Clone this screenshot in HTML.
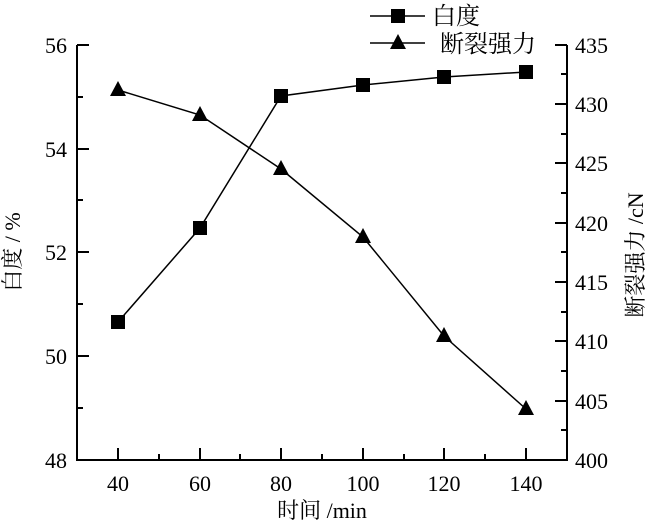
<!DOCTYPE html>
<html><head><meta charset="utf-8"><style>body{margin:0;background:#fff}</style></head><body>
<svg width="660" height="527" xmlns="http://www.w3.org/2000/svg" font-family="Liberation Serif, 'Noto Serif CJK SC', serif" font-size="22">
<g stroke="#000" stroke-width="2" fill="none">
<path d="M77 45V460H567V45"/>
<path d="M118 460v-12M159 460v-6M200 460v-12M240 460v-6M281 460v-12M322 460v-6M363 460v-12M404 460v-6M444 460v-12M485 460v-6M526 460v-12"/>
<path d="M77 460h12M77 408h6M77 356h12M77 304h6M77 252h12M77 200h6M77 149h12M77 97h6M77 45h12"/>
<path d="M567 460h-12M567 430h-6M567 401h-12M567 371h-6M567 341h-12M567 312h-6M567 282h-12M567 252h-6M567 223h-12M567 193h-6M567 163h-12M567 134h-6M567 104h-12M567 74h-6M567 45h-12"/>
</g>
<g stroke="#000" stroke-width="1.5" fill="none">
<polyline points="118,322 200,228 281,96 363,85 444,77 526,72"/>
<polyline points="118,90 200,115 281,169 363,237 444,336 526,409"/>
<path d="M370 16h55M370 43h55"/>
</g>
<g fill="#000">
<rect x="111" y="315" width="14" height="14"/><rect x="193" y="221" width="14" height="14"/><rect x="274" y="89" width="14" height="14"/><rect x="356" y="78" width="14" height="14"/><rect x="437" y="70" width="14" height="14"/><rect x="519" y="65" width="14" height="14"/>
<rect x="391" y="9" width="14" height="14"/>
<path d="M118 81l8 15h-16z"/><path d="M200 106l8 15h-16z"/><path d="M281 160l8 15h-16z"/><path d="M363 228l8 15h-16z"/><path d="M444 327l8 15h-16z"/><path d="M526 400l8 15h-16z"/><path d="M398 34l8 15h-16z"/>
</g>
<g text-anchor="end">
<text x="67" y="53">56</text><text x="67" y="157">54</text><text x="67" y="260">52</text><text x="67" y="364">50</text><text x="67" y="468">48</text>
</g>
<g text-anchor="start">
<text x="575" y="53">435</text><text x="575" y="112">430</text><text x="575" y="171">425</text><text x="575" y="231">420</text><text x="575" y="290">415</text><text x="575" y="349">410</text><text x="575" y="409">405</text><text x="575" y="468">400</text>
</g>
<g text-anchor="middle">
<text x="118" y="491">40</text><text x="200" y="491">60</text><text x="281" y="491">80</text><text x="363" y="491">100</text><text x="444" y="491">120</text><text x="526" y="491">140</text>
<text x="322" y="518">时间 /min</text>
<text transform="translate(20 252) rotate(-90)">白度 / %</text>
<text transform="translate(643 255) rotate(-90)">断裂强力 /cN</text>
</g>
<text x="432" y="24" font-size="24">白度</text>
<text x="440" y="52" font-size="24">断裂强力</text>
</svg>
</body></html>
